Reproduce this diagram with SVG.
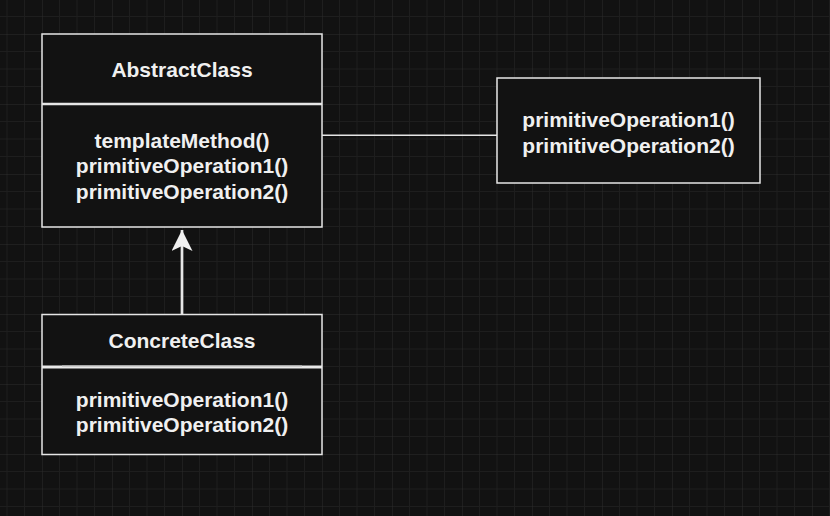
<svg xmlns="http://www.w3.org/2000/svg" width="830" height="516" viewBox="0 0 830 516">
  <defs>
    <pattern id="grid" patternUnits="userSpaceOnUse" x="42" y="34" width="70" height="70">
      <path d="M17.5 0V70M35 0V70M52.5 0V70M0 17.5H70M0 35H70M0 52.5H70" fill="none" stroke="#1e1e1e" stroke-width="1"/>
      <path d="M0 0V70M0 0H70" fill="none" stroke="#2c2c2c" stroke-width="1"/>
    </pattern>
    <marker id="classic" viewBox="0 0 22 21" refX="21" refY="10.5" markerWidth="22" markerHeight="21" markerUnits="userSpaceOnUse" orient="auto">
      <path d="M21 10.5L0 0L5 10.5L0 21Z" fill="#f0f0f0" stroke="none"/>
    </marker>
  </defs>
  <style>
    .box{fill:#121212;stroke:#e6e6e6;stroke-width:1.5}
    .div{stroke:#e6e6e6;stroke-width:2.5}
    .t{font-family:"Liberation Sans",Arial,Helvetica,sans-serif;font-weight:bold;font-size:21px;fill:#f0f0f0;text-anchor:middle}
    .edge{fill:none;stroke:#e6e6e6}
  </style>
  <rect width="830" height="516" fill="#121212"/>
  <rect width="830" height="516" fill="url(#grid)"/>

  <g id="connectors">
    <path class="edge" d="M322 135.3H497" stroke-width="1.5"/>
    <path class="edge" d="M182 314.5V230" stroke-width="2.7" marker-end="url(#classic)"/>
  </g>

  <g id="abstract-class">
    <rect class="box" x="42" y="34" width="280" height="193"/>
    <line class="div" x1="42" y1="104" x2="322" y2="104"/>
    <text class="t" x="182" y="77">AbstractClass</text>
    <text class="t" x="182" y="148">templateMethod()</text>
    <text class="t" x="182" y="173.3">primitiveOperation1()</text>
    <text class="t" x="182" y="198.8">primitiveOperation2()</text>
  </g>

  <g id="concrete-class">
    <rect class="box" x="42" y="314.5" width="280" height="140"/>
    <line x1="42" y1="367" x2="322" y2="367" stroke="#e8e8e8" stroke-width="3"/>
    <line x1="62" y1="366.3" x2="302" y2="366.3" stroke="#cfcfcf" stroke-width="1.6"/>
    <text class="t" x="182" y="348">ConcreteClass</text>
    <text class="t" x="182" y="406.5">primitiveOperation1()</text>
    <text class="t" x="182" y="431.7">primitiveOperation2()</text>
  </g>

  <g id="note">
    <rect class="box" x="497" y="78" width="263" height="105"/>
    <text class="t" x="628.5" y="126.5">primitiveOperation1()</text>
    <text class="t" x="628.5" y="152.5">primitiveOperation2()</text>
  </g>
</svg>
